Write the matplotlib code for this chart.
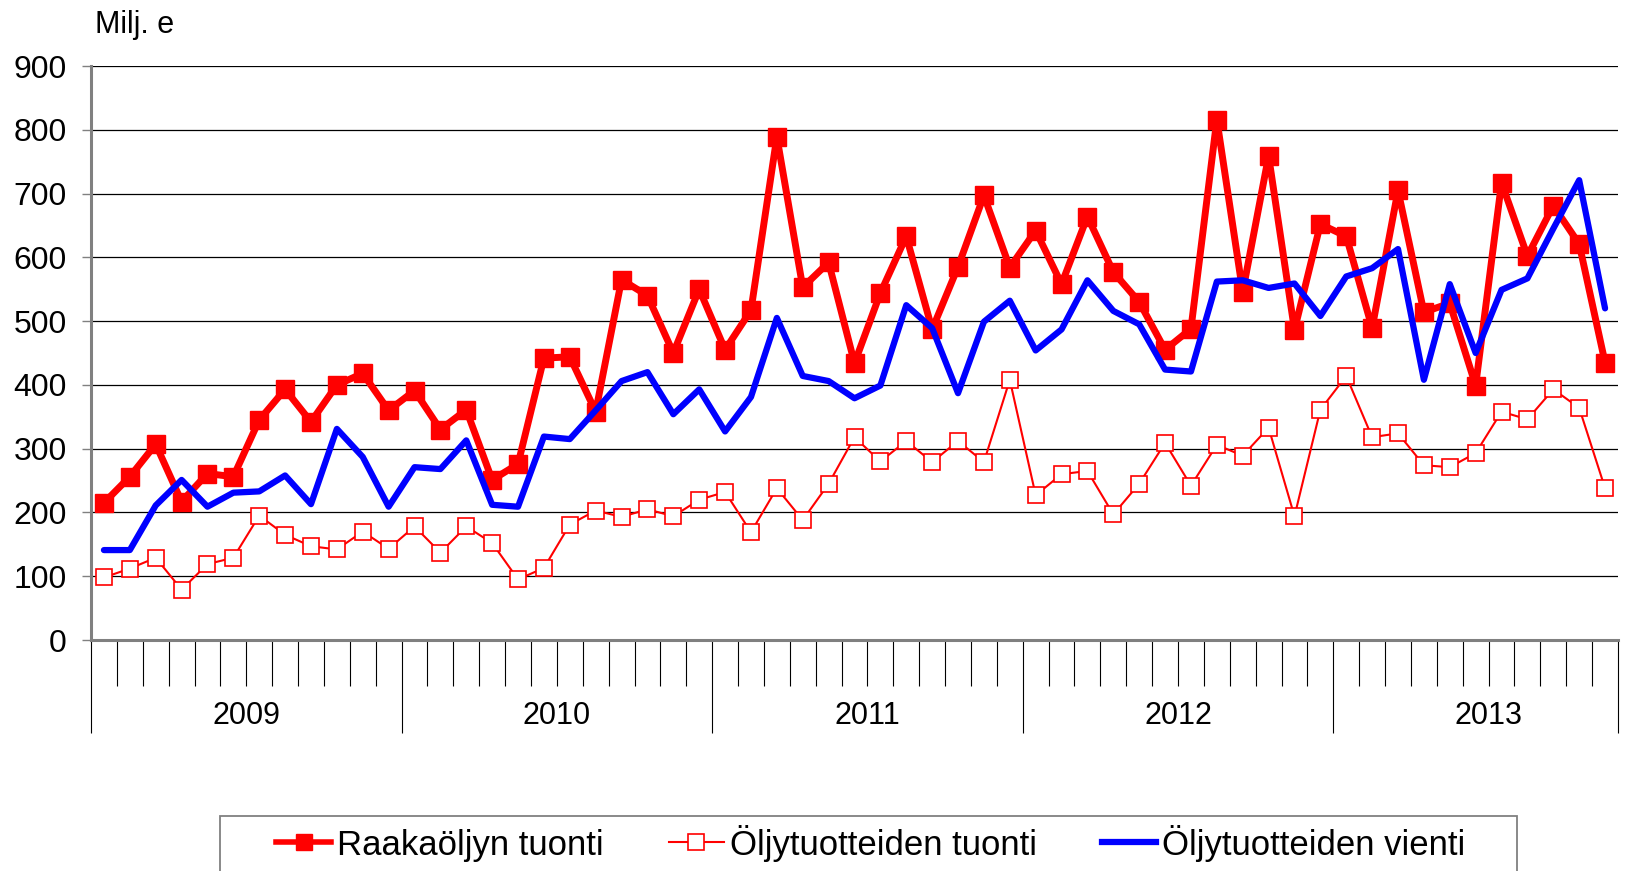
import numpy as np
import matplotlib.pyplot as plt
from matplotlib.lines import Line2D
from matplotlib.patches import Rectangle

plt.rcParams['font.family'] = ['Liberation Sans', 'DejaVu Sans']

years = ['2009', '2010', '2011', '2012', '2013']
months_per_year = [12, 12, 12, 12, 11]

# Raakaöljyn tuonti, milj. e
raaka_tuonti = [215, 256, 307, 217, 261, 256, 345, 393, 342, 400, 418, 360,
                391, 330, 361, 251, 276, 442, 444, 358, 565, 540, 450, 550,
                455, 517, 789, 553, 592, 434, 544, 633, 487, 585, 697, 584,
                642, 558, 664, 577, 530, 455, 488, 816, 546, 759, 486, 652,
                633, 489, 705, 514, 528, 399, 717, 602, 681, 621, 435]
# Öljytuotteiden tuonti
tuote_tuonti = [98, 112, 129, 79, 119, 129, 195, 165, 147, 142, 170, 143,
                178, 137, 178, 152, 95, 113, 181, 203, 193, 205, 194, 220,
                232, 169, 238, 188, 245, 318, 280, 312, 279, 312, 279, 408,
                227, 260, 265, 197, 245, 309, 242, 306, 289, 333, 194, 361,
                414, 318, 324, 274, 271, 293, 358, 346, 393, 364, 238]
# Öljytuotteiden vienti
tuote_vienti = [141, 141, 211, 251, 209, 231, 233, 258, 213, 331, 287, 209,
                271, 268, 313, 212, 209, 319, 315, 360, 406, 420, 354, 393,
                327, 381, 505, 414, 406, 379, 399, 525, 489, 387, 499, 532,
                454, 487, 564, 516, 495, 424, 421, 562, 564, 552, 559, 508,
                570, 583, 613, 408, 558, 450, 549, 567, 645, 721, 520]

labels = ['Raakaöljyn tuonti', 'Öljytuotteiden tuonti', 'Öljytuotteiden vienti']

n = len(raaka_tuonti)
x = np.arange(n)

W, H = 1635, 871
fig = plt.figure(figsize=(W / 100, H / 100), dpi=100)
ax = fig.add_axes([91/W, 1 - 640/H, (1618 - 91)/W, (640 - 66)/H])

ax.plot(x, raaka_tuonti, color='#ff0000', lw=5.0, marker='s', ms=12.5,
        mfc='#ff0000', mec='#ff0000', zorder=3, label=labels[0])
ax.plot(x, tuote_tuonti, color='#ff0000', lw=1.5, marker='s', ms=12,
        mfc='white', mec='#ff0000', mew=1.2, zorder=3, label=labels[1])
ax.plot(x, tuote_vienti, color='#0000ff', lw=4.5, zorder=4,
        solid_joinstyle='round', solid_capstyle='round', label=labels[2])

ax.set_xlim(-0.5, n - 0.5)
ax.set_ylim(0, 900)
ax.set_yticks(np.arange(0, 901, 100))
ax.tick_params(axis='y', labelsize=23, length=6.5, width=1, color='#808080', pad=11)
ax.yaxis.grid(True, color='black', lw=0.9)
ax.set_axisbelow(True)

for s in ['top', 'right']:
    ax.spines[s].set_visible(False)
ax.spines['left'].set_color('#808080')
ax.spines['left'].set_linewidth(2.2)
ax.spines['bottom'].set_color('#808080')
ax.spines['bottom'].set_linewidth(2.2)

# category axis: month ticks and longer year separators
bounds = np.cumsum([0] + months_per_year) - 0.5
ax.set_xticks(bounds)
ax.set_xticks(np.arange(-0.5, n, 1.0), minor=True)
ax.set_xticklabels([])
ax.tick_params(axis='x', which='major', length=67, width=0.8, color='black')
ax.tick_params(axis='x', which='minor', length=33, width=0.8, color='black')

tr = ax.get_xaxis_transform()
for i, yr in enumerate(years):
    ax.text(bounds[i] + 6, -76/574, yr, transform=tr, ha='center',
            va='center', fontsize=22)

fig.text(95/W, 1 - 25/H, 'Milj. e', fontsize=22, ha='left', va='center')

# legend frame (runs off the bottom of the picture)
fig.patches.append(Rectangle((220/W, -0.05), (1517 - 220)/W, 0.05 + 1 - 816/H,
                             transform=fig.transFigure, fill=False,
                             edgecolor='#808080', lw=1.3))

handles = [Line2D([], [], color='#ff0000', lw=4.0, marker='s', ms=12),
           Line2D([], [], color='#ff0000', lw=1.5, marker='s', ms=12,
                  mfc='white', mew=1.2),
           Line2D([], [], color='#0000ff', lw=4.5)]
leg = fig.legend(handles, labels, loc='center', ncol=3, fontsize=25,
                 bbox_to_anchor=(871/W, 1 - 843/H), frameon=False,
                 handlelength=1.58, handletextpad=0.17, columnspacing=1.87,
                 borderpad=0, borderaxespad=0)

fig.savefig('out.png', dpi=100)
